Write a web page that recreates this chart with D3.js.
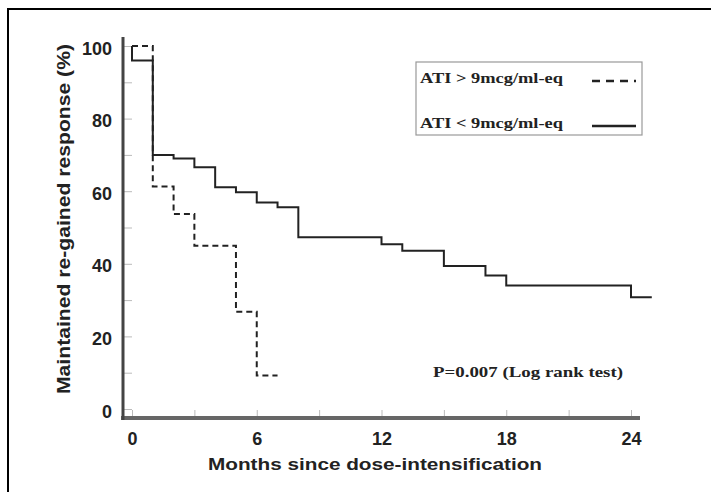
<!DOCTYPE html>
<html lang="en">
<head>
    <meta charset="UTF-8">
    <title>Maintained re-gained response</title>
    <script src="https://d3js.org/d3.v7.min.js"></script>
    <style>
        body, html { margin: 0; background: #fff; }
        svg { display: block; }
        .tick-label { font-family: "Liberation Sans", Arial, sans-serif; font-weight: bold; font-size: 18px; fill: #222; }
        .serif { font-family: "Liberation Serif", "Times New Roman", serif; font-weight: bold; font-size: 15px; fill: #222; }
    </style>
</head>
<body>
<script>
    // Kaplan-Meier steps (time in months, % still responding)
    const highTimes = [0, 1, 2, 3, 5, 6];
    const highSurv  = [100, 61.3, 53.7, 45, 26.8, 9.2];
    const highEnd   = 7;

    const lowTimes = [0, 0, 1, 2, 3, 4, 5, 6, 7, 8, 12, 13, 15, 17, 18, 24];
    const lowSurv  = [100, 96, 70, 69, 66.6, 61.1, 59.7, 56.9, 55.6, 47.3, 45.4, 43.6, 39.4, 36.8, 34, 30.8];
    const lowEnd   = 25;

    const xTicks = [0, 6, 12, 18, 24];
    const yTicks = [0, 20, 40, 60, 80, 100];
    const legendLabels = ["ATI > 9mcg/ml-eq", "ATI < 9mcg/ml-eq"];
    const pText = "P=0.007 (Log rank test)";

    const width = 711, height = 492;
    const svg = d3.select("body").append("svg")
        .attr("width", width)
        .attr("height", height);

    // outer frame (runs off the picture to the right and bottom)
    svg.append("rect")
        .attr("x", 8).attr("y", 9)
        .attr("width", 740).attr("height", 520)
        .attr("fill", "none")
        .attr("stroke", "#000")
        .attr("stroke-width", 2);

    const x = d3.scaleLinear().domain([0, 24]).range([132, 631]);
    const y = d3.scaleLinear().domain([0, 100]).range([409, 46]);

    // small tick marks
    svg.append("g")
        .attr("transform", "translate(0,416)")
        .call(d3.axisBottom(x).tickValues(d3.range(0, 25, 3)).tickSize(-6).tickFormat(""))
        .call(g => g.select(".domain").remove())
        .call(g => g.selectAll("line").attr("stroke", "#bbb"));

    svg.append("g")
        .attr("transform", "translate(124,0)")
        .call(d3.axisRight(y).tickValues(d3.range(0, 101, 10)).tickSize(8).tickFormat(""))
        .call(g => g.select(".domain").remove())
        .call(g => g.selectAll("line").attr("stroke", "#bbb"));

    // axis lines
    svg.append("line")
        .attr("x1", 121).attr("x2", 640)
        .attr("y1", 418).attr("y2", 418)
        .attr("stroke", "#666").attr("stroke-width", 4);
    svg.append("line")
        .attr("x1", 123).attr("x2", 123)
        .attr("y1", 37).attr("y2", 420)
        .attr("stroke", "#444").attr("stroke-width", 3);

    // tick labels
    svg.append("g")
        .attr("transform", "translate(0,420)")
        .call(d3.axisBottom(x).tickValues(xTicks).tickSize(0).tickPadding(12))
        .call(g => g.select(".domain").remove())
        .call(g => g.selectAll("text").attr("class", "tick-label"));

    svg.append("g")
        .attr("transform", "translate(122,0)")
        .call(d3.axisLeft(y).tickValues(yTicks).tickSize(0).tickPadding(10))
        .call(g => g.select(".domain").remove())
        .call(g => g.selectAll("text").attr("class", "tick-label").attr("dy", "0.45em"));

    // axis titles
    svg.append("text")
        .attr("class", "tick-label")
        .attr("x", 375).attr("y", 470)
        .attr("text-anchor", "middle")
        .attr("textLength", 334)
        .attr("lengthAdjust", "spacingAndGlyphs")
        .style("font-size", "17px")
        .text("Months since dose-intensification");

    svg.append("text")
        .attr("class", "tick-label")
        .attr("transform", "translate(70,219) rotate(-90)")
        .attr("text-anchor", "middle")
        .attr("textLength", 350)
        .attr("lengthAdjust", "spacingAndGlyphs")
        .style("font-size", "18px")
        .text("Maintained re-gained response (%)");

    // survival curves
    const step = d3.line().x(d => x(d[0])).y(d => y(d[1])).curve(d3.curveStepAfter);
    const highPts = highTimes.map((t, i) => [t, highSurv[i]]).concat([[highEnd, highSurv[highSurv.length - 1]]]);
    const lowPts = lowTimes.map((t, i) => [t, lowSurv[i]]).concat([[lowEnd, lowSurv[lowSurv.length - 1]]]);

    svg.append("path")
        .attr("d", step(lowPts))
        .attr("fill", "none")
        .attr("stroke", "#222")
        .attr("stroke-width", 2);

    svg.append("path")
        .attr("d", step(highPts))
        .attr("fill", "none")
        .attr("stroke", "#222")
        .attr("stroke-width", 2)
        .attr("stroke-dasharray", "6,4");

    // legend
    const legend = svg.append("g");
    legend.append("rect")
        .attr("x", 416).attr("y", 62)
        .attr("width", 226).attr("height", 73)
        .attr("fill", "none")
        .attr("stroke", "#999")
        .attr("stroke-width", 1.2);

    legendLabels.forEach((d, i) => {
        const row = legend.append("g").attr("transform", `translate(0, ${i * 45})`);
        row.append("text")
            .attr("class", "serif")
            .attr("x", 420).attr("y", 83)
            .attr("textLength", 143)
            .attr("lengthAdjust", "spacingAndGlyphs")
            .text(d);
        row.append("line")
            .attr("x1", 592).attr("x2", 636)
            .attr("y1", 81).attr("y2", 81)
            .attr("stroke", "#222")
            .attr("stroke-width", 2.5)
            .attr("stroke-dasharray", i === 0 ? "8,6" : null);
    });

    svg.append("text")
        .attr("class", "serif")
        .attr("x", 433).attr("y", 377)
        .attr("textLength", 190)
        .attr("lengthAdjust", "spacingAndGlyphs")
        .text(pText);
</script>
</body>
</html>
